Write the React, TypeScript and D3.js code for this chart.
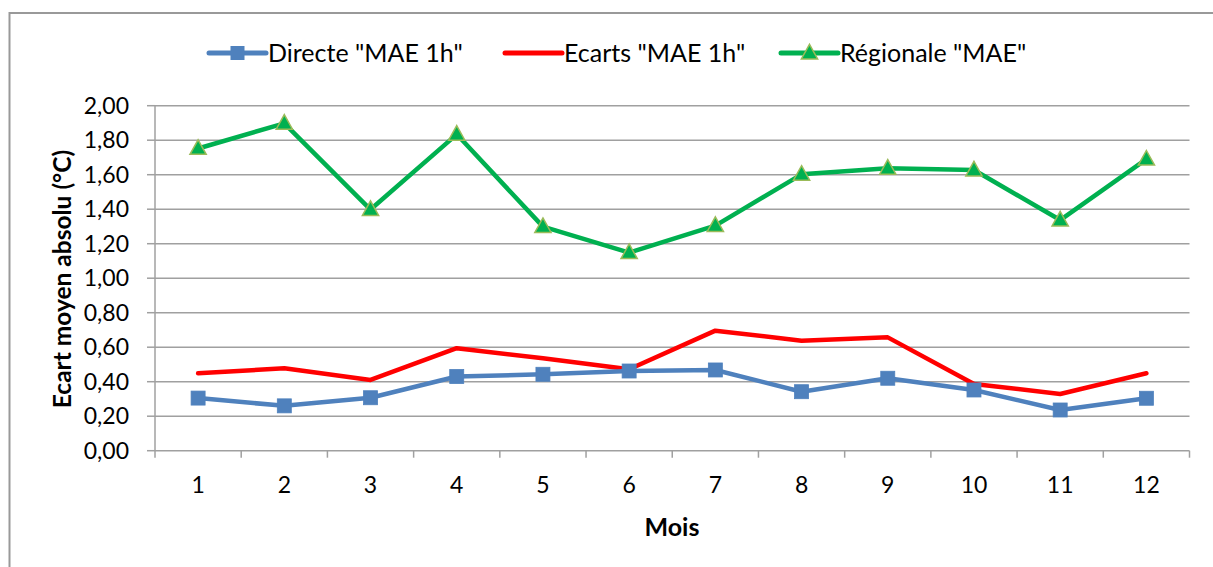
import React from "react";
import * as d3 from "d3";

const months = ["1", "2", "3", "4", "5", "6", "7", "8", "9", "10", "11", "12"];
const directe = [0.305, 0.26, 0.307, 0.43, 0.443, 0.462, 0.468, 0.342, 0.42, 0.352, 0.236, 0.304];
const ecarts = [0.449, 0.478, 0.41, 0.594, 0.536, 0.472, 0.696, 0.638, 0.657, 0.387, 0.329, 0.449];
const regionale = [1.752, 1.898, 1.398, 1.834, 1.299, 1.148, 1.305, 1.602, 1.637, 1.627, 1.337, 1.69];
const yTicks = [0, 0.2, 0.4, 0.6, 0.8, 1.0, 1.2, 1.4, 1.6, 1.8, 2.0];
const seriesNames = ['Directe "MAE 1h"', 'Ecarts "MAE 1h"', 'Régionale "MAE"'];

const W = 1213;
const H = 567;
const FONT = "Lato, 'Open Sans', sans-serif";

export default function App() {
  const left = 155, right = 1189.5, top = 105.7, bottom = 450.7;
  const x = d3.scaleBand<string>().domain(months).range([left, right]);
  const y = d3.scaleLinear().domain([0, 2]).range([bottom, top]);
  const cx = (m: string) => (x(m) as number) + x.bandwidth() / 2;
  const line = d3.line<number>().x((_, i) => cx(months[i])).y((v) => y(v));
  const fmt = (v: number) => v.toFixed(2).replace(".", ",");
  const grid = "#A0A0A0";
  const blue = "#4F81BD", red = "#FF0000", green = "#00B050", greenEdge = "#9BBB59";
  const tri = (px: number, py: number, s: number) =>
    `M${px},${py - s * 0.62} L${px + s * 0.58},${py + s * 0.42} L${px - s * 0.58},${py + s * 0.42} Z`;

  const legendY = 53;
  const legend = [
    { x0: 209, color: blue, marker: "square", tx: 268 },
    { x0: 505, color: red, marker: "none", tx: 564 },
    { x0: 781, color: green, marker: "tri", tx: 840 },
  ];

  return (
    <svg width={W} height={H} style={{ position: "absolute", left: 0, top: 0, fontFamily: FONT }}>
      <rect x={0} y={0} width={W} height={H} fill="#fff" />
      <rect x={9.5} y={13} width={W + 20} height={H + 20} fill="#fff" stroke="#999" strokeWidth={2} />

      {/* gridlines */}
      {yTicks.map((t) => (
        <g key={t}>
          <line x1={left} x2={right} y1={y(t)} y2={y(t)} stroke={grid} strokeWidth={1.5} />
          <line x1={left - 8} x2={left} y1={y(t)} y2={y(t)} stroke={grid} strokeWidth={1.5} />
          <text x={129} y={y(t)} dy="0.36em" textAnchor="end" fontSize={23} fill="#000">
            {fmt(t)}
          </text>
        </g>
      ))}
      {/* y axis */}
      <line x1={left} x2={left} y1={top} y2={bottom} stroke={grid} strokeWidth={1.5} />
      {/* x ticks */}
      {months.map((m) => (
        <line key={"t" + m} x1={x(m) as number} x2={x(m) as number} y1={bottom} y2={bottom + 7} stroke={grid} strokeWidth={1.5} />
      ))}
      <line x1={right} x2={right} y1={bottom} y2={bottom + 7} stroke={grid} strokeWidth={1.5} />
      {months.map((m) => (
        <text key={"l" + m} x={cx(m)} y={485} dy="0.36em" textAnchor="middle" fontSize={23} fill="#000">
          {m}
        </text>
      ))}

      {/* axis titles */}
      <text x={672} y={527} dy="0.36em" textAnchor="middle" fontSize={25} fontWeight="bold" fill="#000">
        Mois
      </text>
      <text
        transform={`translate(62,${279}) rotate(-90)`}
        textAnchor="middle"
        dy="0.36em"
        fontSize={24.5}
        fontWeight="bold"
        fill="#000"
      >
        Ecart moyen absolu (°C)
      </text>

      {/* series */}
      <path d={line(regionale) || ""} fill="none" stroke={green} strokeWidth={4.5} strokeLinejoin="round" />
      <path d={line(ecarts) || ""} fill="none" stroke={red} strokeWidth={4.5} strokeLinejoin="round" strokeLinecap="round" />
      <path d={line(directe) || ""} fill="none" stroke={blue} strokeWidth={4.5} strokeLinejoin="round" />
      {directe.map((v, i) => (
        <rect key={"b" + i} x={cx(months[i]) - 7} y={y(v) - 7} width={14} height={14} fill={blue} stroke={blue} strokeWidth={0.8} />
      ))}
      {regionale.map((v, i) => (
        <path key={"g" + i} d={tri(cx(months[i]), y(v), 14)} fill={green} stroke={greenEdge} strokeWidth={1.5} />
      ))}

      {/* legend */}
      {legend.map((l, i) => (
        <g key={"lg" + i}>
          <line x1={l.x0} x2={l.x0 + 57} y1={legendY} y2={legendY} stroke={l.color} strokeWidth={5} strokeLinecap="round" />
          {l.marker === "square" && (
            <rect x={l.x0 + 28.5 - 7} y={legendY - 7} width={14} height={14} fill={blue} />
          )}
          {l.marker === "tri" && <path d={tri(l.x0 + 28.5, legendY, 14)} fill={green} stroke={greenEdge} strokeWidth={1.5} />}
          <text x={l.tx} y={legendY} dy="0.36em" fontSize={25} fill="#000">
            {seriesNames[i]}
          </text>
        </g>
      ))}
    </svg>
  );
}
